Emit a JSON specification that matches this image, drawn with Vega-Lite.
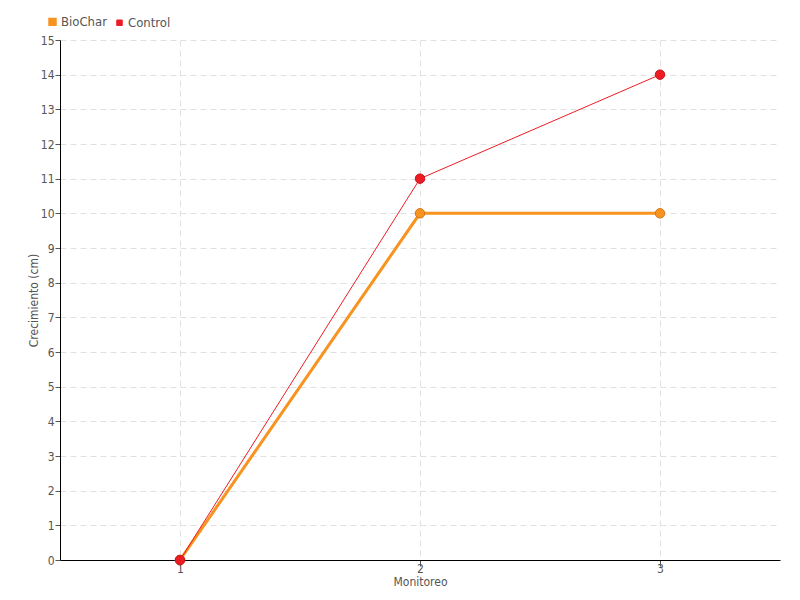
{
  "$schema": "https://vega.github.io/schema/vega-lite/v6.json",
  "width": 720,
  "height": 520,
  "autosize": {"type": "none"},
  "padding": {"left": 60, "top": 40, "right": 20, "bottom": 40},
  "background": "white",
  "config": {
    "font": "DejaVu Sans Condensed",
    "view": {"stroke": null}
  },
  "data": {
    "values": [
      {"serie": "BioChar", "monitoreo": 1, "crecimiento": 0},
      {"serie": "BioChar", "monitoreo": 2, "crecimiento": 10},
      {"serie": "BioChar", "monitoreo": 3, "crecimiento": 10},
      {"serie": "Control", "monitoreo": 1, "crecimiento": 0},
      {"serie": "Control", "monitoreo": 2, "crecimiento": 11},
      {"serie": "Control", "monitoreo": 3, "crecimiento": 14}
    ]
  },
  "encoding": {
    "x": {
      "field": "monitoreo", "type": "quantitative",
      "scale": {"domain": [0.5, 3.5], "nice": false, "zero": false},
      "axis": {
        "title": "Monitoreo", "values": [1, 2, 3], "format": "d",
        "domainColor": "#000", "domainWidth": 1,
        "tickColor": "#555", "tickSize": 6,
        "labelColor": "#555", "labelFontSize": 12, "labelPadding": -3,
        "titleColor": "#555", "titleFontSize": 12, "titleFontWeight": "normal", "titlePadding": 2,
        "grid": true, "gridColor": "#e0e0e0", "gridDash": [6, 4]
      }
    },
    "y": {
      "field": "crecimiento", "type": "quantitative",
      "scale": {"domain": [0, 15], "nice": false},
      "axis": {
        "title": "Crecimiento (cm)", "values": [0,1,2,3,4,5,6,7,8,9,10,11,12,13,14,15],
        "domainColor": "#000", "domainWidth": 1,
        "tickColor": "#555", "tickSize": 5,
        "labelColor": "#555", "labelFontSize": 12, "labelPadding": 1,
        "titleColor": "#555", "titleFontSize": 12, "titleFontWeight": "normal", "titlePadding": 0,
        "grid": true, "gridColor": "#e0e0e0", "gridDash": [6, 4]
      }
    },
    "color": {
      "field": "serie", "type": "nominal",
      "scale": {"domain": ["BioChar", "Control"], "range": ["#F7931E", "#ED1C24"]},
      "legend": {
        "title": null, "orient": "none", "direction": "horizontal",
        "legendX": -14, "legendY": -25,
        "symbolType": "square", "symbolSize": 30, "symbolStrokeWidth": 0,
        "labelFontSize": 13, "labelColor": "#555", "labelOffset": 2,
        "columnPadding": 6
      }
    }
  },
  "layer": [
    {
      "mark": {"type": "line"},
      "encoding": {
        "strokeWidth": {
          "field": "serie", "type": "nominal",
          "scale": {"domain": ["BioChar", "Control"], "range": [3, 1]},
          "legend": null
        }
      }
    },
    {
      "mark": {"type": "point", "filled": true, "size": 90, "opacity": 1, "strokeWidth": 1},
      "encoding": {
        "stroke": {
          "field": "serie", "type": "nominal",
          "scale": {"domain": ["BioChar", "Control"], "range": ["#D2741A", "#C8141C"]},
          "legend": null
        }
      }
    }
  ]
}
